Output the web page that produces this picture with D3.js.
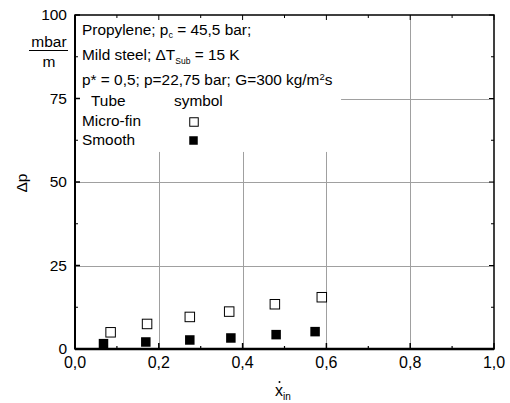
<!DOCTYPE html>
<html>
<head>
<meta charset="utf-8">
<script src="https://cdn.jsdelivr.net/npm/d3@7"></script>
<style>
  html, body { margin: 0; padding: 0; background: #fff; }
  svg { display: block; font-family: "Liberation Sans", Arial, sans-serif; }
</style>
</head>
<body>
<svg id="chart" width="510" height="403"></svg>
<script>
// Vapour quality at the inlet and pressure drop per metre
const xMicro = [0.085, 0.172, 0.274, 0.368, 0.477, 0.589];
const yMicro = [5.0, 7.5, 9.6, 11.2, 13.4, 15.5];
const xSmooth = [0.068, 0.169, 0.274, 0.372, 0.480, 0.573];
const ySmooth = [1.6, 2.1, 2.7, 3.3, 4.3, 5.2];

const xTicks = [0, 0.2, 0.4, 0.6, 0.8, 1.0];
const xTickLabels = ["0,0", "0,2", "0,4", "0,6", "0,8", "1,0"];
const yTicks = [0, 25, 50, 75, 100];
const yTickLabels = ["0", "25", "50", "75", "100"];

const svg = d3.select("#chart");
const pLeft = 75, pRight = 494, pTop = 15, pBottom = 349;

const x = d3.scaleLinear().domain([0, 1]).range([pLeft, pRight]);
const y = d3.scaleLinear().domain([0, 100]).range([pBottom, pTop]);

// grid
const grid = svg.append("g").attr("stroke", "#a0a0a0").attr("stroke-width", 1);
grid.selectAll("line.v").data(xTicks.slice(1, -1)).join("line")
  .attr("x1", d => Math.round(x(d)) + 0.5).attr("x2", d => Math.round(x(d)) + 0.5)
  .attr("y1", pTop).attr("y2", pBottom);
grid.selectAll("line.h").data(yTicks.slice(1, -1)).join("line")
  .attr("y1", d => Math.round(y(d)) + 0.5).attr("y2", d => Math.round(y(d)) + 0.5)
  .attr("x1", pLeft).attr("x2", pRight);

// white panel behind the annotation block
svg.append("rect").attr("x", pLeft).attr("y", pTop)
  .attr("width", x(0.635) - pLeft).attr("height", y(59) - pTop)
  .attr("fill", "#fff");

// axes with inward ticks on all four sides
const minorX = d3.range(0.1, 1.0, 0.2);
const minorY = d3.range(12.5, 100, 25);
const tk = svg.append("g").attr("stroke", "#000").attr("stroke-width", 1);
// bottom
tk.selectAll(null).data(xTicks).join("line")
  .attr("x1", d => x(d)).attr("x2", d => x(d)).attr("y1", pBottom).attr("y2", pBottom - 6).attr("stroke-width", 1.5);
tk.selectAll(null).data(minorX).join("line")
  .attr("x1", d => x(d)).attr("x2", d => x(d)).attr("y1", pBottom).attr("y2", pBottom - 3).attr("stroke-width", 1.2);
// top
tk.selectAll(null).data(xTicks).join("line")
  .attr("x1", d => x(d)).attr("x2", d => x(d)).attr("y1", pTop).attr("y2", pTop + 5);
tk.selectAll(null).data(minorX).join("line")
  .attr("x1", d => x(d)).attr("x2", d => x(d)).attr("y1", pTop).attr("y2", pTop + 3);
// left
tk.selectAll(null).data(yTicks).join("line")
  .attr("y1", d => y(d)).attr("y2", d => y(d)).attr("x1", pLeft).attr("x2", pLeft + 5).attr("stroke-width", 1.5);
tk.selectAll(null).data(minorY).join("line")
  .attr("y1", d => y(d)).attr("y2", d => y(d)).attr("x1", pLeft).attr("x2", pLeft + 3);
// right
tk.selectAll(null).data(yTicks).join("line")
  .attr("y1", d => y(d)).attr("y2", d => y(d)).attr("x1", pRight).attr("x2", pRight - 5);
tk.selectAll(null).data(minorY).join("line")
  .attr("y1", d => y(d)).attr("y2", d => y(d)).attr("x1", pRight).attr("x2", pRight - 3);

// frame
svg.append("rect").attr("x", pLeft).attr("y", pTop).attr("width", pRight - pLeft).attr("height", pBottom - pTop)
  .attr("fill", "none").attr("stroke", "#000").attr("stroke-width", 1.5);
svg.append("line").attr("x1", pLeft).attr("x2", pRight).attr("y1", pBottom).attr("y2", pBottom)
  .attr("stroke", "#000").attr("stroke-width", 2.5);
svg.append("line").attr("x1", pLeft).attr("x2", pLeft).attr("y1", pTop).attr("y2", pBottom)
  .attr("stroke", "#000").attr("stroke-width", 2);

// tick labels
svg.append("g").selectAll("text").data(xTicks).join("text")
  .attr("x", d => x(d)).attr("y", pBottom + 19).attr("text-anchor", "middle")
  .attr("font-size", 16).text((d, i) => xTickLabels[i]);
svg.append("g").selectAll("text").data(yTicks).join("text")
  .attr("x", pLeft - 8).attr("y", d => y(d) + 5).attr("text-anchor", "end")
  .attr("font-size", 15.5).text((d, i) => yTickLabels[i]);

// markers
const sz = 9.5;
svg.append("g").selectAll("rect").data(xMicro).join("rect")
  .attr("x", (d, i) => x(d) - sz / 2).attr("y", (d, i) => y(yMicro[i]) - sz / 2)
  .attr("width", sz).attr("height", sz).attr("fill", "#fff").attr("stroke", "#000").attr("stroke-width", 1);
svg.append("g").selectAll("rect").data(xSmooth).join("rect")
  .attr("x", (d, i) => x(d) - sz / 2).attr("y", (d, i) => y(ySmooth[i]) - sz / 2)
  .attr("width", sz).attr("height", sz).attr("fill", "#000");

// annotation block
const fs = 15.4;
const ann = svg.append("g").attr("font-size", fs).attr("fill", "#000");
const l1 = ann.append("text").attr("x", 82).attr("y", 35);
l1.append("tspan").text("Propylene; p");
l1.append("tspan").attr("font-size", 9).attr("dy", 3).text("c");
l1.append("tspan").attr("dy", -3).text(" = 45,5 bar;");
const l2 = ann.append("text").attr("x", 82).attr("y", 60);
l2.append("tspan").text("Mild steel;  \u0394T");
l2.append("tspan").attr("font-size", 8.5).attr("dy", 4).text("Sub");
l2.append("tspan").attr("dy", -4).text(" = 15 K");
const l3 = ann.append("text").attr("x", 82).attr("y", 85);
l3.append("tspan").text("p* = 0,5; p=22,75 bar; G=300 kg/m");
l3.append("tspan").attr("font-size", 9.5).attr("dy", -5).text("2");
l3.append("tspan").attr("dy", 5).text("s");
ann.append("text").attr("x", 91).attr("y", 106).text("Tube");
ann.append("text").attr("x", 174).attr("y", 106).text("symbol");
ann.append("text").attr("x", 82).attr("y", 126).text("Micro-fin");
ann.append("text").attr("x", 82).attr("y", 145).text("Smooth");
const lsz = 8.5;
svg.append("rect").attr("x", 194 - lsz / 2).attr("y", 122 - lsz / 2).attr("width", lsz).attr("height", lsz)
  .attr("fill", "#fff").attr("stroke", "#000").attr("stroke-width", 1);
svg.append("rect").attr("x", 193.5 - lsz / 2).attr("y", 140.5 - lsz / 2).attr("width", lsz).attr("height", lsz)
  .attr("fill", "#000");

// y axis title
const yt = svg.append("g").attr("font-size", 15.5);
yt.append("text").attr("x", 49).attr("y", 47).attr("text-anchor", "middle").text("mbar");
yt.append("line").attr("x1", 29).attr("x2", 68).attr("y1", 50.5).attr("y2", 50.5).attr("stroke", "#000").attr("stroke-width", 1.2);
yt.append("text").attr("x", 49).attr("y", 67).attr("text-anchor", "middle").text("m");
yt.append("text").attr("transform", "translate(27,183) rotate(-90)").attr("text-anchor", "middle").text("\u0394p");

// x axis title: x with a dot, subscript "in"
const xt = svg.append("text").attr("x", 275).attr("y", 396).attr("font-size", 16);
xt.append("tspan").text("x");
xt.append("tspan").attr("font-size", 10).attr("dy", 4).text("in");
svg.append("circle").attr("cx", 279.5).attr("cy", 382).attr("r", 1).attr("fill", "#000");
</script>
</body>
</html>
